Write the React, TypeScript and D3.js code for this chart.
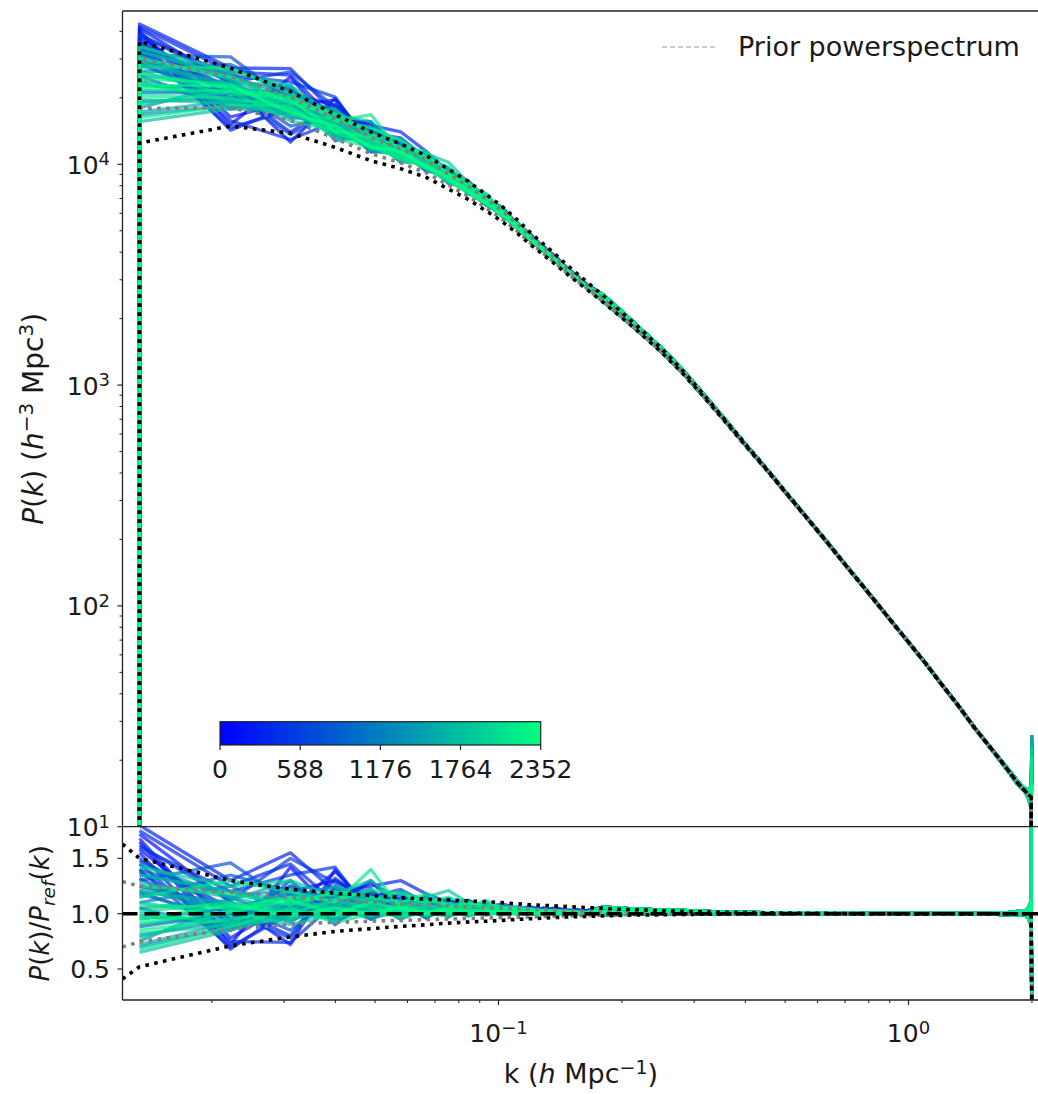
import React from "react";
import * as d3 from "d3";

// ---------------- DATA ----------------
// k grid (h/Mpc): first entry is the empty bin at the axis limit, last is the end bin
const kGrid = [
  0.0121,
  0.01332, 0.0222, 0.03108, 0.03996, 0.04884, 0.05772, 0.0666, 0.07548, 0.08436,
  0.09324, 0.10212, 0.111, 0.11988, 0.12876, 0.13764, 0.14652, 0.1554, 0.16428,
  0.18, 0.2, 0.22, 0.25, 0.28, 0.32, 0.36, 0.4, 0.45, 0.5, 0.56, 0.63, 0.7, 0.8, 0.9,
  1.0, 1.1, 1.2, 1.32, 1.45, 1.6, 1.75, 1.85, 1.92, 1.96, 1.991, 2.0,
];

// reference (prior) power spectrum P_ref(k)
const pRef = [
  0,
  24000, 21000, 17500, 14200, 12000, 10800, 9700, 8450, 7500,
  6600, 5850, 5150, 4520, 4050, 3650, 3300, 3020, 2780,
  2420, 2050, 1760, 1420, 1150, 870, 675, 535, 415, 328, 255, 196, 154, 114, 87,
  68.5, 55, 44.5, 35.5, 28, 22.3, 18, 15.7, 14.6, 14.0, 13.6, 0,
];

// bounds as ratio to P_ref
const upperBlack = [
  1.63,
  1.5, 1.3, 1.22, 1.185, 1.165, 1.145, 1.13, 1.125, 1.115,
  1.108, 1.1, 1.09, 1.08, 1.075, 1.07, 1.065, 1.06, 1.055,
  1.05, 1.04, 1.035, 1.028, 1.022, 1.017, 1.013, 1.01, 1.008, 1.006, 1.004, 1.003, 1.002, 1.0, 1.0,
  1.0, 1.0, 1.0, 1.0, 1.0, 1.0, 1.0, 1.0, 1.0, 1.0, 1.0, 0,
];
const lowerBlack = [
  0.41,
  0.52, 0.71, 0.79, 0.84, 0.865, 0.885, 0.9, 0.915, 0.925,
  0.932, 0.94, 0.948, 0.955, 0.96, 0.965, 0.97, 0.973, 0.976,
  0.98, 0.985, 0.988, 0.99, 0.993, 0.995, 0.997, 0.998, 1.0, 1.0, 1.0, 1.0, 1.0, 1.0, 1.0,
  1.0, 1.0, 1.0, 1.0, 1.0, 1.0, 1.0, 1.0, 1.0, 1.0, 1.0, 0,
];
const upperGray = [
  1.29,
  1.25, 1.19, 1.15, 1.125, 1.105, 1.09, 1.08, 1.07, 1.062,
  1.055, 1.05, 1.045, 1.04, 1.036, 1.032, 1.028, 1.025, 1.022,
  1.02, 1.016, 1.013, 1.01, 1.007, 1.005, 1.003, 1.002, 1.0, 1.0, 1.0, 1.0, 1.0, 1.0, 1.0,
  1.0, 1.0, 1.0, 1.0, 1.0, 1.0, 1.0, 1.0, 1.0, 1.0, 1.0, 0,
];
const lowerGray = [
  0.7,
  0.745, 0.86, 0.905, 0.922, 0.932, 0.94, 0.946, 0.952, 0.957,
  0.962, 0.965, 0.968, 0.972, 0.975, 0.978, 0.98, 0.982, 0.984,
  0.986, 0.99, 0.993, 0.996, 0.998, 1.0, 1.0, 1.0, 1.0, 1.0, 1.0, 1.0, 1.0, 1.0, 1.0,
  1.0, 1.0, 1.0, 1.0, 1.0, 1.0, 1.0, 1.0, 1.0, 1.0, 1.0, 0,
];

// iteration of each sample (colour)
const sampleIter = [
  0, 90, 180, 270, 360, 450, 540, 630, 740, 830, 920, 1010, 1100, 1190,
  1280, 1370, 1460, 1550, 1640, 1730, 1820, 1910, 2000, 2090, 2180, 2270, 2352,
  45, 135, 225, 315, 405, 495, 585, 680, 785, 875, 965, 1055, 1145, 1235,
  1325, 1415, 1505, 1595, 1685, 1775, 1865, 1955, 2045, 2135, 2225, 2310,
];

// sample ratio P/P_ref at the 18 low-k bins (k = 0.0133 ... 0.164)
const sampleLowK = [
  [1.65, 0.72, 1.42, 1.0, 1.18, 0.98, 1.1, 1.04, 1.12, 1.02, 1.08, 1.03, 1.06, 1.02, 1.05, 1.03, 1.02, 1.03],
  [1.72, 1.1, 0.72, 1.4, 1.02, 1.12, 0.98, 1.08, 1.02, 1.1, 1.0, 1.06, 1.02, 1.04, 1.03, 1.02, 1.03, 1.01],
  [1.55, 0.68, 1.05, 1.38, 1.05, 1.2, 1.0, 1.1, 0.98, 1.06, 1.02, 1.04, 1.01, 1.05, 1.02, 1.03, 1.01, 1.02],
  [1.8, 1.3, 1.55, 1.2, 1.25, 1.3, 1.18, 1.1, 1.12, 1.06, 1.09, 1.05, 1.06, 1.04, 1.05, 1.03, 1.04, 1.02],
  [1.45, 0.75, 0.74, 1.1, 1.3, 1.0, 1.12, 0.97, 1.08, 1.03, 1.05, 1.0, 1.04, 1.02, 1.03, 1.01, 1.02, 1.01],
  [1.6, 1.2, 1.35, 1.42, 1.0, 1.15, 1.05, 1.02, 1.1, 1.0, 1.06, 1.04, 1.02, 1.05, 1.01, 1.03, 1.02, 1.02],
  [1.38, 0.85, 1.3, 0.9, 1.18, 1.08, 0.96, 1.12, 1.0, 1.07, 1.02, 1.05, 1.0, 1.03, 1.02, 1.02, 1.01, 1.02],
  [1.5, 1.0, 0.78, 1.25, 1.1, 0.95, 1.18, 1.02, 1.06, 0.99, 1.05, 1.02, 1.04, 1.01, 1.03, 1.02, 1.01, 1.01],
  [1.3, 1.46, 1.1, 1.15, 0.95, 1.1, 1.05, 1.0, 1.08, 1.02, 1.04, 1.01, 1.03, 1.02, 1.02, 1.01, 1.02, 1.01],
  [1.2, 0.9, 1.25, 1.05, 1.15, 0.98, 1.08, 1.03, 0.99, 1.05, 1.01, 1.03, 1.0, 1.02, 1.01, 1.02, 1.01, 1.01],
  [1.4, 1.15, 0.92, 1.2, 1.0, 1.12, 0.96, 1.07, 1.03, 1.0, 1.04, 1.01, 1.03, 1.0, 1.02, 1.01, 1.01, 1.02],
  [0.95, 1.05, 1.18, 0.92, 1.08, 1.02, 1.1, 0.98, 1.05, 1.02, 1.0, 1.03, 1.01, 1.02, 1.0, 1.01, 1.02, 1.01],
  [1.1, 1.25, 1.0, 1.1, 0.98, 1.05, 1.0, 1.06, 1.0, 1.04, 1.02, 1.0, 1.02, 1.01, 1.02, 1.0, 1.01, 1.01],
  [0.8, 0.95, 1.08, 1.0, 1.12, 0.95, 1.04, 1.02, 1.06, 0.99, 1.03, 1.01, 1.0, 1.02, 1.01, 1.01, 1.0, 1.01],
  [1.25, 1.05, 1.15, 1.25, 1.05, 1.1, 1.02, 1.08, 1.01, 1.04, 1.01, 1.03, 1.02, 1.0, 1.02, 1.01, 1.01, 1.0],
  [0.7, 0.88, 0.98, 1.05, 0.96, 1.02, 1.05, 0.98, 1.03, 1.0, 1.02, 1.0, 1.01, 1.0, 1.01, 1.0, 1.01, 1.0],
  [1.05, 1.12, 1.3, 1.02, 1.1, 1.0, 1.08, 1.0, 1.04, 1.01, 1.03, 1.0, 1.02, 1.01, 1.01, 1.0, 1.01, 1.0],
  [0.9, 1.0, 1.05, 1.1, 1.0, 1.04, 0.98, 1.05, 1.0, 1.03, 0.99, 1.02, 1.0, 1.01, 1.0, 1.01, 1.0, 1.01],
  [1.2, 1.1, 0.95, 1.02, 1.15, 1.0, 1.06, 1.01, 1.03, 1.0, 1.02, 1.01, 1.01, 1.0, 1.01, 1.0, 1.01, 1.0],
  [0.65, 0.85, 1.0, 0.95, 1.05, 0.98, 1.02, 1.0, 1.02, 0.99, 1.01, 1.0, 1.0, 1.01, 1.0, 1.0, 1.0, 1.0],
  [1.35, 1.2, 1.12, 1.18, 1.3, 1.08, 1.15, 1.21, 1.1, 1.06, 1.08, 1.03, 1.05, 1.02, 1.03, 1.02, 1.02, 1.01],
  [1.0, 0.92, 1.1, 1.05, 0.98, 1.1, 1.02, 1.04, 0.98, 1.03, 1.0, 1.02, 1.0, 1.01, 1.0, 1.01, 1.0, 1.0],
  [0.78, 1.02, 0.9, 1.0, 1.08, 0.96, 1.04, 0.99, 1.03, 1.01, 1.0, 1.01, 1.0, 1.0, 1.01, 1.0, 1.0, 1.0],
  [1.15, 1.3, 1.2, 1.1, 1.4, 1.05, 1.12, 1.1, 1.05, 1.08, 1.04, 1.05, 1.03, 1.03, 1.02, 1.02, 1.01, 1.01],
  [0.85, 0.95, 1.02, 0.98, 1.02, 1.0, 0.99, 1.02, 1.0, 1.01, 1.0, 1.0, 1.0, 1.0, 1.0, 1.0, 1.0, 1.0],
  [1.08, 1.05, 1.15, 1.12, 1.22, 1.18, 1.1, 1.15, 1.08, 1.1, 1.05, 1.06, 1.04, 1.03, 1.03, 1.02, 1.02, 1.01],
  [0.95, 1.08, 0.98, 1.05, 1.0, 1.06, 1.01, 1.03, 1.0, 1.02, 1.01, 1.01, 1.0, 1.01, 1.0, 1.0, 1.0, 1.0],
  [1.58, 0.95, 1.2, 1.3, 1.12, 1.05, 1.08, 1.0, 1.1, 1.04, 1.06, 1.02, 1.05, 1.03, 1.04, 1.02, 1.03, 1.02],
  [1.68, 0.78, 1.1, 1.15, 1.22, 1.02, 1.15, 1.06, 1.03, 1.08, 1.03, 1.05, 1.02, 1.04, 1.02, 1.03, 1.02, 1.01],
  [1.48, 1.05, 0.8, 1.32, 1.08, 1.18, 0.98, 1.12, 1.05, 1.02, 1.07, 1.03, 1.04, 1.02, 1.03, 1.02, 1.01, 1.02],
  [1.75, 1.25, 1.45, 1.1, 1.28, 1.12, 1.06, 1.14, 1.04, 1.09, 1.03, 1.06, 1.03, 1.04, 1.02, 1.03, 1.02, 1.02],
  [1.4, 0.7, 1.0, 1.22, 0.98, 1.1, 1.04, 1.06, 1.0, 1.05, 1.01, 1.03, 1.01, 1.02, 1.01, 1.02, 1.01, 1.01],
  [1.62, 1.12, 1.5, 1.28, 1.15, 1.22, 1.1, 1.05, 1.12, 1.04, 1.07, 1.02, 1.05, 1.02, 1.03, 1.02, 1.02, 1.01],
  [1.32, 0.92, 1.18, 1.08, 1.2, 0.98, 1.06, 1.09, 1.02, 1.05, 1.03, 1.02, 1.03, 1.01, 1.02, 1.01, 1.02, 1.01],
  [1.25, 1.08, 0.85, 1.18, 1.05, 1.12, 1.0, 1.06, 1.04, 1.01, 1.04, 1.02, 1.02, 1.01, 1.02, 1.01, 1.01, 1.01],
  [1.15, 1.35, 1.2, 1.0, 1.1, 1.05, 1.12, 1.02, 1.06, 1.03, 1.02, 1.04, 1.01, 1.02, 1.01, 1.01, 1.01, 1.0],
  [1.05, 0.85, 1.12, 1.15, 1.02, 1.08, 0.98, 1.05, 1.02, 1.04, 1.0, 1.02, 1.01, 1.01, 1.01, 1.01, 1.0, 1.01],
  [1.35, 1.2, 1.05, 0.95, 1.15, 1.0, 1.09, 1.03, 1.0, 1.04, 1.02, 1.01, 1.02, 1.0, 1.01, 1.01, 1.0, 1.01],
  [0.88, 1.0, 1.25, 1.08, 0.95, 1.06, 1.02, 1.08, 1.01, 1.0, 1.03, 1.01, 1.01, 1.02, 1.0, 1.01, 1.01, 1.0],
  [1.18, 0.95, 1.05, 1.2, 1.08, 1.0, 1.06, 0.99, 1.04, 1.02, 1.01, 1.02, 1.0, 1.01, 1.01, 1.0, 1.01, 1.0],
  [0.75, 1.1, 0.95, 1.05, 1.0, 1.12, 0.97, 1.04, 1.0, 1.03, 1.0, 1.01, 1.01, 1.0, 1.01, 1.0, 1.0, 1.0],
  [1.45, 1.15, 1.22, 1.12, 1.2, 1.05, 1.1, 1.05, 1.08, 1.03, 1.04, 1.02, 1.03, 1.01, 1.02, 1.01, 1.01, 1.01],
  [0.98, 0.9, 1.02, 0.96, 1.05, 0.99, 1.02, 1.0, 1.01, 1.0, 1.01, 1.0, 1.0, 1.0, 1.0, 1.0, 1.0, 1.0],
  [1.22, 1.02, 1.1, 1.18, 1.02, 1.08, 1.04, 1.1, 1.02, 1.05, 1.02, 1.03, 1.01, 1.02, 1.01, 1.01, 1.01, 1.0],
  [0.72, 0.92, 0.98, 1.02, 1.0, 1.03, 0.98, 1.02, 1.0, 1.01, 1.0, 1.01, 1.0, 1.0, 1.0, 1.0, 1.0, 1.0],
  [1.28, 1.15, 1.02, 1.25, 1.1, 1.12, 1.08, 1.04, 1.12, 1.04, 1.05, 1.02, 1.03, 1.02, 1.02, 1.01, 1.01, 1.01],
  [1.1, 0.98, 1.2, 1.0, 1.12, 1.02, 1.06, 1.08, 1.02, 1.06, 1.01, 1.02, 1.02, 1.01, 1.01, 1.01, 1.0, 1.0],
  [0.82, 0.9, 0.95, 1.08, 0.98, 1.04, 1.0, 0.98, 1.03, 1.0, 1.02, 1.0, 1.01, 1.0, 1.01, 1.0, 1.0, 1.0],
  [1.42, 1.25, 1.3, 1.15, 1.12, 1.2, 1.12, 1.08, 1.06, 1.12, 1.04, 1.04, 1.03, 1.03, 1.02, 1.02, 1.01, 1.01],
  [1.02, 1.1, 1.0, 1.12, 1.05, 1.02, 1.08, 1.02, 1.05, 1.01, 1.03, 1.01, 1.02, 1.01, 1.01, 1.0, 1.01, 1.0],
  [0.68, 0.88, 1.05, 0.92, 1.0, 0.98, 1.02, 1.0, 0.99, 1.01, 1.0, 1.0, 1.0, 1.0, 1.0, 1.0, 1.0, 1.0],
  [1.25, 1.18, 1.08, 1.2, 1.15, 1.1, 1.18, 1.06, 1.1, 1.05, 1.06, 1.03, 1.04, 1.02, 1.02, 1.02, 1.01, 1.01],
  [0.92, 1.02, 1.12, 1.0, 1.1, 1.04, 1.0, 1.06, 1.02, 1.03, 1.02, 1.01, 1.01, 1.01, 1.0, 1.0, 1.0, 1.0],
];

// ratio tails from k = 0.18 to k = 1.85 (upper, middle, lower envelopes of the bundle)
const tailUpper = [1.06, 1.05, 1.04, 1.035, 1.03, 1.02, 1.015, 1.012, 1.01, 1.008, 1.006, 1.005,
  1.004, 1.003, 1.002, 1.002, 1.002, 1.002, 1.002, 1.003, 1.004, 1.01, 1.02];
const tailMiddle = [1.02, 1.015, 1.015, 1.012, 1.01, 1.008, 1.006, 1.005, 1.004, 1.003, 1.002, 1.002,
  1.001, 1.0, 1.0, 1.0, 1.0, 1.0, 1.0, 1.0, 1.0, 1.002, 1.005];
const tailLower = [0.99, 0.995, 0.995, 0.997, 0.998, 0.998, 0.999, 0.999, 1.0, 1.0, 1.0, 1.0,
  1.0, 0.999, 0.998, 0.998, 0.998, 0.998, 0.998, 0.997, 0.996, 0.99, 0.985];
const tails = [tailUpper, tailMiddle, tailLower];
const sampleTailSet = [
  0, 1, 0, 0, 2, 0, 1, 2, 1, 0, 2, 1, 0, 2, 1, 2, 1, 2, 0, 2, 0, 1, 2, 0, 2, 0, 1,
  0, 1, 2, 0, 1, 0, 2, 1, 0, 2, 1, 2, 1, 2, 0, 2, 1, 2, 0, 1, 2, 0, 1, 2, 0, 1,
];

// sample ratio at k = 1.92, 1.96, 1.991
const sampleEnd = [
  [1.01, 1.03, 1.08], [0.99, 0.97, 0.92], [1.02, 1.05, 1.12], [1.0, 0.98, 0.95], [1.01, 1.02, 1.04],
  [0.99, 0.96, 0.89], [1.02, 1.04, 1.1], [1.0, 1.01, 1.02], [1.01, 0.99, 0.94], [1.0, 1.03, 1.06],
  [0.99, 0.97, 0.9], [1.02, 1.04, 1.09], [1.0, 0.99, 0.97], [1.01, 1.03, 1.05], [0.99, 0.98, 0.93],
  [1.02, 1.05, 1.11], [1.0, 1.0, 0.99], [1.01, 1.02, 1.07], [0.99, 0.97, 0.91], [1.0, 1.02, 1.03],
  [1.02, 1.04, 1.08], [0.99, 0.98, 0.95], [1.01, 1.03, 1.1], [1.0, 0.99, 0.96], [1.01, 1.02, 1.04],
  [0.99, 0.97, 0.88], [1.02, 1.04, 1.12],
  [1.0, 0.98, 0.93], [1.01, 1.03, 1.07], [0.99, 0.96, 0.9], [1.02, 1.05, 1.1], [1.0, 1.01, 1.03],
  [0.99, 0.98, 0.94], [1.01, 1.04, 1.09], [1.0, 0.99, 0.96], [1.02, 1.03, 1.06], [0.99, 0.97, 0.91],
  [1.01, 1.02, 1.05], [1.0, 0.98, 0.92], [1.02, 1.05, 1.11], [0.99, 0.99, 0.97], [1.01, 1.03, 1.08],
  [1.0, 0.97, 0.89], [1.02, 1.04, 1.1], [0.99, 0.98, 0.95], [1.01, 1.02, 1.06], [1.0, 0.97, 0.9],
  [1.02, 1.05, 1.12], [0.99, 0.99, 0.98], [1.01, 1.03, 1.07], [1.0, 0.96, 0.9], [1.02, 1.04, 1.09],
  [0.99, 0.98, 0.94],
];

// sample P at the last bin k = 2.0
const sampleFinalP = [
  0, 22, 0, 26, 0, 18, 0, 24, 0, 15, 0, 20, 0, 17, 0, 23, 0, 0, 19, 0, 25, 0, 16, 0, 21, 0, 0,
  20, 0, 24, 0, 17, 0, 25, 0, 14, 0, 22, 0, 18, 0, 0, 21, 0, 26, 0, 15, 0, 23, 0, 19, 0, 0,
];

const yMainTicks = [10, 100, 1000, 10000];
const yMainTickExp = ["1", "2", "3", "4"];
const yRatioTicks = [0.5, 1.0, 1.5];
const yRatioTickLabels = ["0.5", "1.0", "1.5"];
const xMajorTicks = [0.1, 1];
const xMajorTickExp = ["\u22121", "0"];
const cbarTicks = [0, 588, 1176, 1764, 2352];
const legendLabel = "Prior powerspectrum";

// ---------------- CHART ----------------
const FONT = "'DejaVu Sans', Verdana, sans-serif";
const W = 1038;
const H = 1094;
const L = 122.5;
const R = 1048.9;
const TOP = 11;
const MID = 826.7;
const BOT = 1000;

function winter(f: number) {
  return `rgb(0,${Math.round(255 * f)},${Math.round(255 * (1 - 0.5 * f))})`;
}

export default function App() {
  const x = d3.scaleLog().domain([0.0121, 2.2]).range([122.44, 1048.9]);
  const yM = d3.scaleLog().domain([10, 49470]).range([MID, TOP]);
  const yR = d3.scaleLinear().domain([0.2197, 1.7866]).range([BOT, MID]);
  const cb = d3.scaleLinear().domain([0, 2352]).range([220, 540.7]);
  const colorOf = (t: number) => winter(t / 2352);

  const yMs = (p: number) => (p <= 0 ? 1e5 : yM(p));
  const line = d3
    .line<[number, number]>()
    .defined((d) => Number.isFinite(d[1]))
    .x((d) => d[0])
    .y((d) => d[1]);

  const sampleRatio = (s: number, i: number) => {
    if (i >= 1 && i <= 18) return sampleLowK[s][i - 1];
    if (i >= 19 && i <= 41) return tails[sampleTailSet[s]][i - 19];
    return sampleEnd[s][i - 42];
  };

  const order = d3.range(sampleIter.length).sort((a, b) => sampleIter[a] - sampleIter[b]);

  const samplesMain = order.map((s) => ({
    s,
    d: line(
      kGrid.map((k, i) => {
        const p = i === 0 ? pRef[0] : i === 45 ? sampleFinalP[s] : sampleRatio(s, i) * pRef[i];
        return [x(k), yMs(p)] as [number, number];
      })
    ),
  }));
  const samplesRatio = order.map((s) => ({
    s,
    d: line(
      kGrid.map((k, i) => {
        let y = NaN;
        if (i >= 1 && i <= 44) y = yR(sampleRatio(s, i));
        if (i === 45) y = sampleFinalP[s] > 0 ? -1e5 : yR(0);
        return [x(k), y] as [number, number];
      })
    ),
  }));

  const boundMain = (b: number[]) =>
    line(kGrid.map((k, i) => [x(k), yMs(b[i] * pRef[i])] as [number, number]));
  const boundRatio = (b: number[]) =>
    line(kGrid.map((k, i) => [x(k), yR(b[i])] as [number, number]));
  const priorMain = line(kGrid.map((k, i) => [x(k), yMs(pRef[i])] as [number, number]));

  const yMinor = yM.ticks().filter((v) => !yMainTicks.includes(v) && v > 10 && v < 49470);
  const xMinor = x
    .ticks()
    .filter((v) => !xMajorTicks.some((m) => Math.abs(m - v) < 1e-9) && v >= 0.0121 && v <= 2.2);

  const black = "#000";
  const dotW = 3.6;
  const dotDash = "3.6 5.4";
  const txt = "#1a1a1a";
  const sw = 3.3;
  const so = 0.68;

  return (
    <svg
      width={W}
      height={H}
      viewBox={`0 0 ${W} ${H}`}
      style={{ position: "absolute", left: 0, top: 0, background: "#fff" }}
      fontFamily={FONT}
    >
      <defs>
        <clipPath id="clipMain">
          <rect x={L} y={TOP} width={R - L} height={MID - TOP} />
        </clipPath>
        <clipPath id="clipRatio">
          <rect x={L} y={MID} width={R - L} height={BOT - MID} />
        </clipPath>
        <linearGradient id="winterGrad" x1="0" x2="1" y1="0" y2="0">
          <stop offset="0" stopColor={winter(0)} />
          <stop offset="1" stopColor={winter(1)} />
        </linearGradient>
      </defs>
      <rect x={0} y={0} width={W} height={H} fill="#fff" />

      {/* main panel */}
      <g clipPath="url(#clipMain)">
        <path d={priorMain || ""} fill="none" stroke="#888" strokeWidth={1.2} strokeDasharray="4 2.5" />
        {samplesMain.map(({ s, d }) => (
          <path
            key={s}
            d={d || ""}
            fill="none"
            stroke={colorOf(sampleIter[s])}
            strokeWidth={sw}
            strokeOpacity={so}
            strokeLinejoin="round"
          />
        ))}
        <path d={boundMain(upperGray) || ""} fill="none" stroke="#808080" strokeWidth={dotW} strokeDasharray={dotDash} />
        <path d={boundMain(lowerGray) || ""} fill="none" stroke="#808080" strokeWidth={dotW} strokeDasharray={dotDash} />
        <path d={boundMain(upperBlack) || ""} fill="none" stroke={black} strokeWidth={dotW} strokeDasharray={dotDash} />
        <path d={boundMain(lowerBlack) || ""} fill="none" stroke={black} strokeWidth={dotW} strokeDasharray={dotDash} />
      </g>

      {/* ratio panel */}
      <g clipPath="url(#clipRatio)">
        {samplesRatio.map(({ s, d }) => (
          <path
            key={s}
            d={d || ""}
            fill="none"
            stroke={colorOf(sampleIter[s])}
            strokeWidth={sw}
            strokeOpacity={so}
            strokeLinejoin="round"
          />
        ))}
        <path d={boundRatio(upperGray) || ""} fill="none" stroke="#808080" strokeWidth={dotW} strokeDasharray={dotDash} />
        <path d={boundRatio(lowerGray) || ""} fill="none" stroke="#808080" strokeWidth={dotW} strokeDasharray={dotDash} />
        <path d={boundRatio(upperBlack) || ""} fill="none" stroke={black} strokeWidth={dotW} strokeDasharray={dotDash} />
        <path d={boundRatio(lowerBlack) || ""} fill="none" stroke={black} strokeWidth={dotW} strokeDasharray={dotDash} />
        <line x1={L} x2={R} y1={yR(1)} y2={yR(1)} stroke={black} strokeWidth={3.4} strokeDasharray="15 7" />
      </g>

      {/* spines */}
      <line x1={L} x2={R} y1={TOP} y2={TOP} stroke="#222" strokeWidth={1.3} />
      <line x1={L} x2={L} y1={TOP} y2={BOT} stroke="#222" strokeWidth={1.3} />
      <line x1={L} x2={R} y1={MID} y2={MID} stroke="#222" strokeWidth={1.3} />
      <line x1={L} x2={R} y1={BOT} y2={BOT} stroke="#222" strokeWidth={1.3} />

      {/* main y ticks */}
      {yMainTicks.map((v, i) => (
        <g key={"ym" + i}>
          <line x1={L - 5} x2={L} y1={yM(v)} y2={yM(v)} stroke="#222" strokeWidth={1.2} />
          <text x={110} y={yM(v) + 9.5} textAnchor="end" fontSize={25} fill={txt}>
            10
            <tspan dy={-8.5} fontSize={18}>
              {yMainTickExp[i]}
            </tspan>
          </text>
        </g>
      ))}
      {yMinor.map((v, i) => (
        <line key={"ymn" + i} x1={L - 3} x2={L} y1={yM(v)} y2={yM(v)} stroke="#222" strokeWidth={1} />
      ))}

      {/* ratio y ticks */}
      {yRatioTicks.map((v, i) => (
        <g key={"yr" + i}>
          <line x1={L - 5} x2={L} y1={yR(v)} y2={yR(v)} stroke="#222" strokeWidth={1.2} />
          <text x={110} y={yR(v) + 9} textAnchor="end" fontSize={25} fill={txt}>
            {yRatioTickLabels[i]}
          </text>
        </g>
      ))}

      {/* x ticks */}
      {xMajorTicks.map((v, i) => (
        <g key={"xm" + i}>
          <line x1={x(v)} x2={x(v)} y1={BOT} y2={BOT + 5} stroke="#222" strokeWidth={1.2} />
          <text x={x(v)} y={BOT + 42} textAnchor="middle" fontSize={25} fill={txt}>
            10
            <tspan dy={-8.5} fontSize={18}>
              {xMajorTickExp[i]}
            </tspan>
          </text>
        </g>
      ))}
      {xMinor.map((v, i) => (
        <line key={"xmn" + i} x1={x(v)} x2={x(v)} y1={BOT} y2={BOT + 3} stroke="#222" strokeWidth={1} />
      ))}

      {/* axis labels */}
      <text x={581} y={1083} textAnchor="middle" fontSize={27} fill={txt}>
        k (<tspan fontStyle="italic">h</tspan> Mpc
        <tspan dy={-9} fontSize={19}>
          {"\u22121"}
        </tspan>
        <tspan dy={9}>)</tspan>
      </text>
      <text transform={`translate(43,${(TOP + MID) / 2}) rotate(-90)`} textAnchor="middle" fontSize={28} fill={txt}>
        <tspan fontStyle="italic">P</tspan>(<tspan fontStyle="italic">k</tspan>) (
        <tspan fontStyle="italic">h</tspan>
        <tspan dy={-10} fontSize={20}>
          {"\u22123"}
        </tspan>
        <tspan dy={10}> Mpc</tspan>
        <tspan dy={-10} fontSize={20}>
          3
        </tspan>
        <tspan dy={10}>)</tspan>
      </text>
      <text transform={`translate(49,${(MID + BOT) / 2}) rotate(-90)`} textAnchor="middle" fontSize={26} fill={txt}>
        <tspan fontStyle="italic">P</tspan>(<tspan fontStyle="italic">k</tspan>)/
        <tspan fontStyle="italic">P</tspan>
        <tspan dy={6} fontSize={18.5} fontStyle="italic">
          ref
        </tspan>
        <tspan dy={-6}>(</tspan>
        <tspan fontStyle="italic">k</tspan>)
      </text>

      {/* legend */}
      <line x1={662} x2={717} y1={47} y2={47} stroke="#999" strokeWidth={1.2} strokeDasharray="5 3" />
      <text x={738} y={47} dy="0.35em" fontSize={27} fill={txt}>
        {legendLabel}
      </text>

      {/* colorbar */}
      <rect x={220} y={721.7} width={320.7} height={23.3} fill="url(#winterGrad)" stroke="#222" strokeWidth={1.2} />
      {cbarTicks.map((v, i) => (
        <g key={"cb" + i}>
          <line x1={cb(v)} x2={cb(v)} y1={745} y2={750} stroke="#222" strokeWidth={1.2} />
          <text x={cb(v)} y={778} textAnchor="middle" fontSize={25} fill={txt}>
            {String(v)}
          </text>
        </g>
      ))}
    </svg>
  );
}
